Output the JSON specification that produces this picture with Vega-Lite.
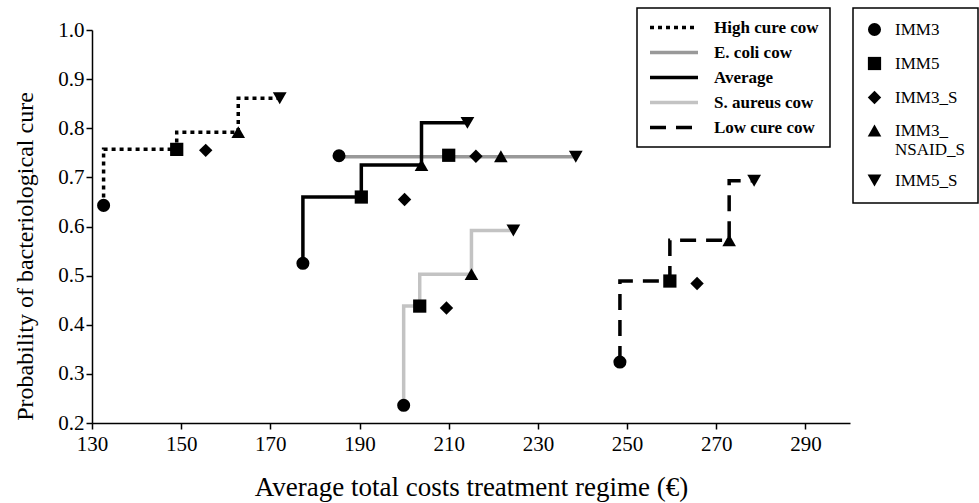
{
  "$schema": "https://vega.github.io/schema/vega-lite/v6.json",
  "width": 758,
  "height": 393,
  "autosize": "none",
  "padding": {"left": 92, "top": 30, "right": 129, "bottom": 80},
  "background": "white",
  "config": {
    "view": {"stroke": null},
    "font": "Liberation Serif, Times New Roman, serif",
    "legend": {"strokeWidth": 1.5}
  },
  "data": {
    "values": [
      {"series": "High cure cow", "regime": "IMM3", "cost": 132.6, "p": 0.643, "frontier": true},
      {"series": "High cure cow", "regime": "IMM5", "cost": 149.0, "p": 0.757, "frontier": true},
      {"series": "High cure cow", "regime": "IMM3_S", "cost": 155.5, "p": 0.755, "frontier": false},
      {"series": "High cure cow", "regime": "IMM3_NSAID_S", "cost": 162.8, "p": 0.792, "frontier": true},
      {"series": "High cure cow", "regime": "IMM5_S", "cost": 172.1, "p": 0.861, "frontier": true},
      {"series": "E. coli cow", "regime": "IMM3", "cost": 185.4, "p": 0.744, "frontier": true},
      {"series": "E. coli cow", "regime": "IMM5", "cost": 210.0, "p": 0.745, "frontier": false},
      {"series": "E. coli cow", "regime": "IMM3_S", "cost": 216.1, "p": 0.743, "frontier": false},
      {"series": "E. coli cow", "regime": "IMM3_NSAID_S", "cost": 221.7, "p": 0.743, "frontier": false},
      {"series": "E. coli cow", "regime": "IMM5_S", "cost": 238.5, "p": 0.742, "frontier": true},
      {"series": "Average", "regime": "IMM3", "cost": 177.3, "p": 0.525, "frontier": true},
      {"series": "Average", "regime": "IMM5", "cost": 190.4, "p": 0.66, "frontier": true},
      {"series": "Average", "regime": "IMM3_S", "cost": 200.1, "p": 0.655, "frontier": false},
      {"series": "Average", "regime": "IMM3_NSAID_S", "cost": 203.9, "p": 0.725, "frontier": true},
      {"series": "Average", "regime": "IMM5_S", "cost": 214.2, "p": 0.811, "frontier": true},
      {"series": "S. aureus cow", "regime": "IMM3", "cost": 199.9, "p": 0.236, "frontier": true},
      {"series": "S. aureus cow", "regime": "IMM5", "cost": 203.5, "p": 0.438, "frontier": true},
      {"series": "S. aureus cow", "regime": "IMM3_S", "cost": 209.5, "p": 0.434, "frontier": false},
      {"series": "S. aureus cow", "regime": "IMM3_NSAID_S", "cost": 215.1, "p": 0.503, "frontier": true},
      {"series": "S. aureus cow", "regime": "IMM5_S", "cost": 224.5, "p": 0.592, "frontier": true},
      {"series": "Low cure cow", "regime": "IMM3", "cost": 248.4, "p": 0.324, "frontier": true},
      {"series": "Low cure cow", "regime": "IMM5", "cost": 259.6, "p": 0.489, "frontier": true},
      {"series": "Low cure cow", "regime": "IMM3_S", "cost": 265.7, "p": 0.484, "frontier": false},
      {"series": "Low cure cow", "regime": "IMM3_NSAID_S", "cost": 272.9, "p": 0.572, "frontier": true},
      {"series": "Low cure cow", "regime": "IMM5_S", "cost": 278.5, "p": 0.693, "frontier": true}
    ]
  },
  "encoding": {
    "x": {
      "field": "cost", "type": "quantitative",
      "scale": {"domain": [130, 300], "nice": false, "zero": false},
      "axis": {
        "values": [130, 150, 170, 190, 210, 230, 250, 270, 290],
        "title": "Average total costs treatment regime (€)",
        "grid": false, "domainColor": "black", "domainWidth": 1.5,
        "tickColor": "black", "tickWidth": 1.5, "tickSize": 6,
        "labelFont": "Liberation Serif, Times New Roman, serif", "labelFontSize": 21, "labelColor": "black", "labelPadding": 4,
        "labelFlush": false, "labelOverlap": false,
        "titleFont": "Liberation Serif, Times New Roman, serif", "titleFontSize": 27, "titleFontWeight": "normal", "titleColor": "black", "titlePadding": 20
      }
    },
    "y": {
      "field": "p", "type": "quantitative",
      "scale": {"domain": [0.2, 1.0], "nice": false, "zero": false},
      "axis": {
        "values": [0.2, 0.3, 0.4, 0.5, 0.6, 0.7, 0.8, 0.9, 1.0],
        "format": ".1f",
        "title": "Probability of bacteriological cure",
        "grid": false, "domainColor": "black", "domainWidth": 1.5,
        "tickColor": "black", "tickWidth": 1.5, "tickSize": 6,
        "labelFont": "Liberation Serif, Times New Roman, serif", "labelFontSize": 21, "labelColor": "black", "labelPadding": 2,
        "labelFlush": false, "labelOverlap": false,
        "titleFont": "Liberation Serif, Times New Roman, serif", "titleFontSize": 24, "titleFontWeight": "normal", "titleColor": "black", "titlePadding": 20,
        "titleY": 226
      }
    }
  },
  "layer": [
    {
      "transform": [{"filter": "datum.frontier"}],
      "mark": {"type": "line", "interpolate": "step-before", "strokeWidth": 3.5, "strokeCap": "butt"},
      "encoding": {
        "order": {"field": "cost", "type": "quantitative"},
        "color": {
          "field": "series", "type": "nominal",
          "scale": {"domain": ["High cure cow", "E. coli cow", "Average", "S. aureus cow", "Low cure cow"],
                    "range": ["#000000", "#999999", "#000000", "#c3c3c3", "#000000"]},
          "legend": {
            "orient": "none", "legendX": 545, "legendY": -22, "title": null,
            "strokeColor": "black", "fillColor": "white", "padding": 11,
            "labelFont": "Liberation Serif, Times New Roman, serif", "labelFontSize": 17, "labelFontWeight": "bold", "labelColor": "black",
            "symbolSize": 2304, "symbolStrokeWidth": 3.5, "clipHeight": 17, "rowPadding": 7, "labelOffset": 14,
            "labelExpr": "datum.label + '   '"
          }
        },
        "strokeDash": {
          "field": "series", "type": "nominal",
          "scale": {"domain": ["High cure cow", "E. coli cow", "Average", "S. aureus cow", "Low cure cow"],
                    "range": [[4, 4], [1, 0], [1, 0], [1, 0], [16, 10]]},
          "legend": {
            "orient": "none", "legendX": 545, "legendY": -22, "title": null,
            "strokeColor": "black", "fillColor": "white", "padding": 11,
            "labelFont": "Liberation Serif, Times New Roman, serif", "labelFontSize": 17, "labelFontWeight": "bold", "labelColor": "black",
            "symbolSize": 2304, "symbolStrokeWidth": 3.5, "clipHeight": 17, "rowPadding": 7, "labelOffset": 14,
            "labelExpr": "datum.label + '   '"
          }
        }
      }
    },
    {
      "mark": {"type": "point", "filled": true, "color": "black", "opacity": 1, "strokeWidth": 0},
      "encoding": {
        "shape": {
          "field": "regime", "type": "nominal",
          "scale": {"domain": ["IMM3", "IMM5", "IMM3_S", "IMM3_NSAID_S", "IMM5_S"],
                    "range": ["circle", "square", "diamond", "triangle-up", "triangle-down"]},
          "legend": {
            "orient": "none", "legendX": 761, "legendY": -22, "title": null,
            "strokeColor": "black", "fillColor": "white", "padding": 13,
            "labelFont": "Liberation Serif, Times New Roman, serif", "labelFontSize": 17, "labelColor": "black",
            "rowPadding": 13, "labelOffset": 12,
            "symbolFillColor": "black", "symbolStrokeColor": "black",
            "labelExpr": "datum.label == 'IMM3_NSAID_S' ? ['IMM3_        ', 'NSAID_S        '] : datum.label + '        '"
          }
        },
        "size": {
          "field": "regime", "type": "nominal",
          "scale": {"domain": ["IMM3", "IMM5", "IMM3_S", "IMM3_NSAID_S", "IMM5_S"],
                    "range": [170, 190, 330, 300, 300]},
          "legend": {
            "orient": "none", "legendX": 761, "legendY": -22, "title": null,
            "strokeColor": "black", "fillColor": "white", "padding": 13,
            "labelFont": "Liberation Serif, Times New Roman, serif", "labelFontSize": 17, "labelColor": "black",
            "rowPadding": 13, "labelOffset": 12,
            "symbolFillColor": "black", "symbolStrokeColor": "black",
            "labelExpr": "datum.label == 'IMM3_NSAID_S' ? ['IMM3_        ', 'NSAID_S        '] : datum.label + '        '"
          }
        }
      }
    }
  ]
}
